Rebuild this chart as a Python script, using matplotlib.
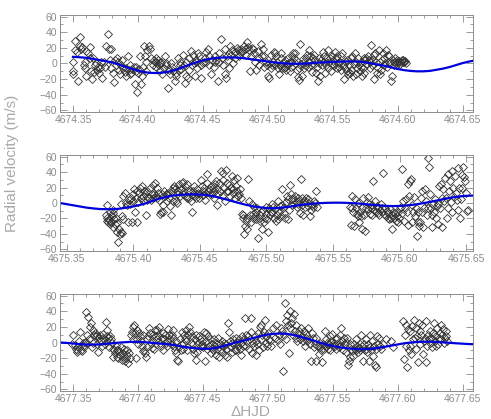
import numpy as np
import matplotlib.pyplot as plt
from matplotlib.ticker import MultipleLocator, FormatStrFormatter

plt.rcParams['font.family'] = ['Liberation Sans', 'DejaVu Sans']

# night start days (HJD - 2450000) and plotted windows
days = [4674.35, 4675.345, 4677.34]
xlims = [(4674.340, 4674.658), (4675.345, 4675.655), (4677.340, 4677.658)]

# (time offset from day start in 1e-3 d, RV in m/s)
rv1 = [(0.0,2),(0.1,-10),(0.3,-13),(1.3,29),(1.8,17),(3.1,15),(3.8,-23),(5.1,34),(5.2,23),(6.4,19),(7.2,21),(8.2,-2),(9.0,-6),(9.1,2),(9.7,-16),(10.3,16),(11.5,13),(12.8,7),(13.3,21),(14.1,-10),(14.9,-20),(15.4,7),(16.2,-11),(16.7,-2),(17.9,0),(18.5,-8),(19.2,-5),(20.0,-12),(20.5,-6),(21.8,2),(22.6,-19),(23.6,2),(24.4,-4),(25.6,23),(26.9,38),(27.7,19),(28.2,4),(29.0,19),(29.5,-6),(30.8,-12),(31.3,-24),(32.1,4),(33.3,-2),(33.8,7),(34.6,2),(35.4,-8),(35.9,-14),(37.2,-2),(37.9,4),(38.5,-6),(39.7,-11),(40.5,-16),(41.0,-6),(42.3,9),(43.1,-8),(43.6,-2),(44.1,-13),(44.9,-12),(45.6,-7),(46.7,-5),(47.4,-26),(48.2,-4),(48.7,-9),(49.2,-36),(50.0,-12),(50.8,-7),(51.8,9),(52.6,-26),(53.3,-16),(53.8,-4),(54.6,23),(55.1,9),(55.9,2),(56.4,-10),(57.2,17),(58.5,23),(59.5,19),(60.3,7),(61.5,-2),(62.1,4),(62.8,2),(63.6,-4),(64.1,7),(64.6,0),(65.4,4),(66.2,-2),(66.7,-8),(67.2,0),(67.9,2),(68.7,-14),(69.7,-6),(70.5,9),(71.3,0),(71.8,-2),(73.1,-31),(73.8,-8),(74.4,-14),(75.6,0),(76.4,-5),(76.9,-9),(78.2,-22),(79.0,-12),(79.5,-16),(80.8,7),(81.5,-8),(82.1,-2),(82.6,2),(83.3,-7),(84.6,11),(85.1,-2),(85.9,-25),(86.7,-16),(87.2,2),(88.5,-18),(89.2,-8),(89.7,7),(91.0,16),(91.8,-2),(92.3,11),(93.1,0),(93.6,-16),(94.4,5),(94.9,2),(95.4,-6),(96.2,13),(97.4,9),(98.2,-2),(98.7,-18),(100.0,0),(100.5,2),(101.3,7),(102.1,15),(102.6,2),(103.8,18),(104.6,10),(105.1,-2),(106.4,-14),(107.2,4),(108.2,-4),(109.0,9),(109.7,2),(110.3,4),(111.5,-22),(112.3,2),(112.8,14),(114.1,31),(114.9,7),(115.4,-2),(116.7,-13),(117.2,19),(117.9,-18),(118.5,9),(119.2,4),(120.0,13),(120.5,-6),(121.0,22),(121.8,11),(122.6,17),(123.1,0),(124.4,15),(125.1,7),(126.2,20),(126.9,17),(128.2,9),(128.7,15),(129.5,19),(130.3,15),(131.3,22),(132.1,19),(133.3,11),(134.1,27),(134.6,21),(135.4,17),(136.4,-10),(137.2,9),(137.9,20),(138.5,18),(139.7,14),(140.5,2),(141.0,-8),(142.3,16),(143.1,7),(143.6,-2),(144.9,25),(145.6,10),(146.2,19),(146.7,-4),(147.4,9),(148.7,2),(149.2,-2),(150.0,-16),(150.8,-18),
       (151.5,0),(152.3,11),(152.8,-6),(153.3,-2),(154.1,2),(154.8,15),(155.3,-2),(155.8,13),(156.6,9),(157.4,2),(157.9,-6),(158.4,-13),(159.1,-2),(159.9,7),(160.4,13),(160.9,-6),(161.7,0),(162.4,-6),(162.9,4),(163.5,-4),(164.2,-8),(165.0,-1),(165.5,7),(166.0,0),(166.8,-10),(167.5,-4),(168.0,2),(168.5,9),(169.3,13),(170.1,7),(170.6,13),(171.1,0),(171.8,4),(172.6,-8),(173.1,-17),(173.9,-6),(174.4,-21),(174.9,25),(175.6,-1),(176.2,-16),(176.9,6),(177.7,-6),(178.2,2),(178.7,-2),(179.5,7),(180.2,11),(180.7,-4),(181.5,17),(182.0,2),(182.8,9),(183.3,-2),(184.0,-11),(184.5,7),(185.3,11),(185.8,-1),(186.3,4),(187.1,-12),(187.8,-5),(188.3,-22),(189.1,0),(189.6,7),(190.4,-16),(190.9,4),(191.4,-2),(192.2,15),(192.9,2),(193.4,9),(194.2,-12),(194.7,-2),(195.5,7),(196.0,17),(196.5,-6),(197.2,2),(198.0,7),(198.5,-10),(199.3,9),(199.8,-1),(200.5,3),(201.1,-2),(201.6,15),(202.3,7),(203.1,-6),(203.6,9),(204.1,0),(204.9,-4),(205.6,2),(206.1,-8),(206.6,9),(207.4,13),(208.2,-2),(208.7,-20),(209.2,-6),(209.9,2),(210.7,-10),(211.2,4),(211.7,-14),(212.5,-2),(213.2,-12),(213.8,7),(214.3,-8),(215.0,9),(215.8,-16),(216.3,-1),(216.8,13),(217.6,2),(218.3,-14),(218.8,-6),(219.3,7),(220.1,-2),(220.9,-10),(221.4,2),(221.9,-4),(222.6,-16),(223.4,-6),(223.9,-12),(224.4,7),(225.2,4),(225.9,7),(226.5,-1),(227.0,9),(227.7,4),(228.5,-6),(229.0,2),(229.5,24),(230.3,-2),(231.0,4),(231.5,-20),(232.0,11),(232.8,13),(233.6,2),(234.1,-12),(234.6,-6),(235.3,17),(236.1,2),(236.6,-14),(237.1,-8),(237.9,4),(238.7,13),(239.2,-2),(239.7,7),(240.4,0),(241.2,17),(241.7,-4),(242.2,11),(243.0,2),(243.7,9),(244.2,0),(244.8,-22),(245.5,-16),(246.3,4),(246.8,-2),(247.3,2),(248.1,7),(248.8,0),(249.3,2),(249.8,4),(250.6,0),(251.4,3),(251.9,-1),(252.4,2),(253.1,4),(253.9,2),(254.4,4),(254.9,2),(255.7,3),(256.4,0)]

rv2 = [(35.0,-3),(34.5,-15),(35.0,-20),(35.5,-23),(36.25,-25),(37.0,-21),(37.5,-27),(38.0,-24),(38.75,-17),(39.5,-31),(40.0,-13),(40.5,-21),(41.25,-27),(42.0,-19),(42.5,-38),(43.0,-26),(43.75,-51),(44.5,-33),(45.0,-40),(45.5,-37),(46.25,-39),(47.0,-21),(37.5,-11),(39.5,-9),(45.5,-1),(46.25,-17),
       (47.5,9),(48.75,13),(49.5,0),(50.0,-3),(51.25,-25),(52.0,4),(52.5,-1),(53.0,7),(53.75,-24),(54.5,11),(55.0,3),(55.5,18),(56.25,-11),(57.0,7),(57.5,15),(58.0,-24),(58.75,1),(59.5,13),(60.0,20),(60.5,7),(61.25,22),(62.0,3),(62.5,9),(63.0,16),(63.75,11),(64.5,-16),(65.0,4),(65.5,15),(66.25,8),(67.0,7),(67.5,20),(68.0,4),(68.75,11),(69.5,23),(70.0,7),(70.5,11),(71.25,26),(72.0,9),(72.5,6),(73.0,20),(73.75,13),(74.5,4),(75.0,-14),(75.5,-12),(76.25,11),(77.0,-2),(77.5,-11),(78.0,15),(78.75,9),(79.5,11),(80.0,3),(80.5,11),(81.25,13),(82.0,7),(82.5,-4),(83.0,-15),(83.75,15),(84.5,20),(85.0,2),(85.5,22),(86.25,18),(87.0,3),(87.5,11),(88.0,0),(88.75,15),(89.5,24),(90.0,9),(90.5,18),(91.25,26),(92.0,11),(92.5,27),(93.0,16),(93.75,22),(94.5,9),(95.0,7),(95.5,24),(96.25,15),(97.0,7),(97.5,16),(98.0,3),(98.75,-12),(99.5,11),(100.0,16),(100.5,22),(101.25,9),(102.0,7),(102.5,11),(103.0,18),(103.75,13),(104.5,7),(105.0,11),(105.5,30),(106.25,22),(107.0,15),(107.5,10),(108.0,20),(108.75,4),(109.5,13),(110.0,37),(110.5,26),(111.25,15),(112.0,18),(112.5,11),(113.0,22),(113.75,11),(114.5,20),(115.0,15),(115.5,7),(116.25,24),(117.0,28),(117.5,-2),(118.0,18),(118.75,11),(119.5,26),(120.0,15),(120.5,41),(121.25,9),(122.0,30),(122.5,39),(123.0,20),(123.75,3),(124.5,43),(125.0,15),(125.5,26),(126.25,16),(127.0,23),(127.5,9),(128.0,20),(128.75,35),(129.5,13),(130.0,18),(130.5,30),(131.25,7),(132.0,22),(132.5,15),(133.0,32),(133.75,9),(134.5,11),(135.0,18),(135.5,7),
       (136.25,-14),(137.0,-16),(137.5,-19),(138.0,-40),(138.75,-30),(139.5,-23),(140.0,-34),(140.5,-20),(141.25,31),(142.0,3),(142.5,-16),(143.0,-24),(143.75,-1),(144.5,-19),(145.0,-14),(145.5,-5),(146.25,-17),(147.0,-11),(147.5,-21),(148.0,-7),(148.75,-45),(149.5,-19),(150.0,-15),(150.5,-23),(151.25,-11),(152.0,-34),(152.5,-9),(153.0,-25),(153.75,-19),(154.5,-5),(155.0,-14),(155.5,-21),(156.25,-38),
       (156.9,-7),(157.65,-15),(158.4,-11),(158.9,-1),(159.4,-12),(160.15,-5),(160.9,-19),(161.4,-8),(161.9,-23),(162.65,-15),(163.4,-21),(163.9,3),(164.4,-11),(165.15,-4),(165.9,-17),(166.4,-3),(166.9,18),(167.65,-7),(168.4,-13),(168.9,-19),(169.4,1),(170.15,9),(170.9,-21),(171.4,5),(171.9,-9),(172.65,23),(173.4,11),(173.9,-3),(174.4,5),(175.15,7),(175.9,-1),(176.4,9),(176.9,1),(177.65,-5),(178.4,7),(178.9,-1),(179.4,3),(180.15,-13),(180.9,31),(181.4,-3),(181.9,7),(182.65,-15),(183.4,3),(183.9,-5),(184.4,7),(185.15,1),(185.9,-4),(186.4,5),(187.65,-17),(188.4,-9),(188.9,-3),(190.15,-5),(190.9,3),(191.4,0),(191.9,15),(192.65,-5),
       (217.65,-5),(218.4,-29),(218.9,-6),(219.4,9),(220.15,-11),(220.9,-30),(221.4,5),(221.9,-6),(222.65,-14),(223.4,-17),(223.9,0),(224.4,-25),(225.15,-11),(225.9,-17),(226.4,-7),(226.9,-33),(227.65,7),(228.4,-15),(228.9,-36),(229.4,-6),(230.15,1),(230.9,-8),(231.4,8),(231.9,-1),(232.65,-14),(233.4,-7),(233.9,-16),(234.4,-3),(235.15,29),(235.9,-9),(236.4,3),(236.9,-11),(237.65,-4),(238.4,-13),(238.9,-7),(239.4,-16),(240.15,-9),(240.9,-1),(241.4,-11),(241.9,-6),(242.65,39),(243.4,-14),(243.9,-7),(244.4,-17),(245.15,-10),(245.9,-20),(246.4,-13),(246.9,-21),(247.65,-8),(248.4,-19),(248.9,-34),(249.4,-15),(250.15,-11),(250.9,-19),(251.4,-13),(251.9,-23),(252.65,-17),(253.4,-25),(253.9,-11),(254.4,-19),(255.15,-7),(255.9,-5),(256.4,-13),(256.9,44),(257.65,3),(258.4,-23),(258.9,-6),(259.4,5),(260.15,-11),(260.9,24),(261.4,-29),(261.9,9),(262.65,28),(263.4,31),(263.9,-3),(264.4,-25),(265.15,-11),(265.9,8),(266.4,-17),(266.9,-6),(267.65,-42),(268.4,-24),(268.9,-11),(269.4,-30),(270.15,-24),(270.9,7),(271.4,-11),(271.9,16),(272.65,-31),(273.4,-6),(273.9,18),(274.4,3),(275.15,-15),(275.9,-7),(276.4,58),(276.9,46),(277.65,11),(278.4,-6),(278.9,-15),(279.4,-31),(280.15,-1),(280.9,-11),(281.4,5),(281.9,-20),(282.65,-4),(283.4,-1),(283.9,-27),(284.4,22),(285.15,-7),(285.9,24),(286.4,7),(286.9,-31),(287.65,18),(288.4,2),(288.9,32),(289.4,7),(290.15,-20),(290.9,37),(291.4,-6),(291.9,16),(292.65,28),(293.4,1),(293.9,-11),(294.4,41),(295.15,20),(295.9,8),(296.4,35),(296.9,13),(297.65,4),(298.4,-9),(298.9,45),(299.4,20),(300.15,-20),(300.9,5),(301.4,36),(301.9,20),(302.65,46),(303.4,34),(303.9,28),(304.4,13),(305.15,-10),(305.9,-9)]

rv3 = [(9.0,-2),(10.3,9),(11.5,-3),(12.3,-8),(12.8,-10),(13.3,-12),(14.1,-6),(14.9,2),(15.4,14),(15.9,-10),(16.7,-11),(17.4,-4),(17.9,0),(18.5,-6),(19.2,1),(20.0,39),(20.5,-1),(21.0,10),(21.8,32),(22.6,4),(23.1,20),(23.6,25),(24.4,-6),(25.1,16),(25.6,0),(26.2,10),(26.9,12),(27.7,8),(28.2,-2),(28.7,10),(29.5,-12),(30.3,6),(30.8,9),(31.3,2),(32.1,-4),(32.8,6),(33.3,11),(33.8,4),(34.6,-2),(35.4,26),(35.9,8),(36.4,16),(37.2,6),(37.9,-6),(38.5,8),(39.0,4),(39.7,0),(40.5,-18),(41.0,-8),(41.5,-10),(42.3,-14),(43.1,-4),(43.6,-18),(44.1,-9),(44.9,-20),(45.6,-11),(46.2,-16),(46.7,-6),(47.4,-22),(48.2,-13),(48.7,-18),(49.2,-8),(50.0,-24),(50.8,-20),(51.3,-16),(51.8,-10),(52.6,-26),(53.3,-14),(53.8,-20),(54.4,10),(55.1,13),(55.9,20),(56.4,4),(56.9,22),(57.7,12),(58.5,-20),(59.0,16),(59.5,4),(60.3,-2),(61.0,12),(61.5,8),(62.1,2),(62.8,-4),(63.6,10),(64.1,-11),(64.6,-9),(65.4,-14),(66.2,-18),(66.7,-6),(67.2,4),(67.9,8),(68.7,18),(69.2,12),(69.7,0),(70.5,-7),(71.3,10),(71.8,2),(72.3,-8),(73.1,16),(73.8,8),(74.4,16),(74.9,4),(75.6,9),(76.4,20),(76.9,0),(77.4,-4),(78.2,6),(79.0,12),(79.5,-10),(80.0,4),(80.8,9),(81.5,0),(82.1,-4),(82.6,2),(83.3,17),(84.1,9),(84.6,4),(85.1,-2),(85.9,10),(86.7,16),(87.2,6),(87.7,-4),(88.5,-10),(89.2,2),(89.7,-14),(90.3,-22),(91.0,-24),(91.8,-6),(92.3,4),(92.8,-10),(93.6,14),(94.4,0),(94.9,-8),(95.4,10),(96.2,4),(96.9,16),(97.4,2),(97.9,-10),(98.7,9),(99.5,20),(100.0,13),(100.5,0),(101.3,8),(102.1,-2),(102.6,-8),(103.1,-14),(103.8,5),(104.6,-22),(105.1,10),(105.6,-12),(106.4,0),(107.2,8),(107.7,4),(108.2,-4),(109.0,2),(109.7,-2),(110.3,-6),(110.8,14),(111.5,-24),(112.3,12),(112.8,2),(113.3,-8),(114.1,8),(114.9,-4),(115.4,5),(115.9,-14),(116.7,-2),(117.4,-7),(117.9,-10),(118.5,4),(119.2,-4),(120.0,-16),(120.5,0),(121.0,-8),(121.8,6),(122.6,-18),(123.1,-2),(123.6,-8),(124.4,2),(125.1,-12),(125.6,-4),(126.2,0),(126.9,-16),(127.7,-8),(128.2,-2),(128.7,-18),(129.5,25),(130.3,13),(130.8,2),(131.3,-6),(132.1,0),(132.8,-12),(133.3,4),(133.8,-2),(134.6,-9),(135.4,6),(135.9,-10),(136.4,1),(137.2,-4),(137.9,5),(138.5,-8),(139.0,-16),(139.7,0),(140.5,8),(141.0,-4),(141.5,4),(142.3,31),(143.1,10),(143.6,-4),(144.1,2),(144.9,8),(145.6,-8),(146.2,4),(146.7,14),(147.4,31),(148.2,-14),(148.7,0),(149.2,-4),(150.0,8),(150.8,2),(151.3,-16),(151.8,-2),(152.6,12),(153.3,-10),(153.8,20),(154.4,4),(155.1,22),(155.9,10),(156.4,-6),(156.9,14),(157.7,29),(158.5,0),(159.0,8),(159.5,-4),(160.3,12),(161.0,4),
       (161.5,2),(162.8,-4),(164.1,18),(165.4,6),(166.7,22),(168.0,3),(168.7,10),(169.2,-2),(170.5,18),(171.3,15),(171.8,-36),(172.3,10),(173.1,50),(173.8,27),(174.4,4),(174.9,35),(175.6,23),(176.4,-14),(176.9,19),(177.4,40),(178.2,25),(179.0,31),(179.5,10),(180.0,37),(180.8,15),(181.5,6),(182.1,23),(182.6,2),(183.3,11),(184.1,15),(184.6,4),(185.9,19),(186.7,8),(187.2,2),(187.7,15),(188.5,-4),(189.2,6),(189.7,11),(190.3,2),(191.0,18),(191.8,4),(192.3,-2),(193.6,-24),(194.4,12),(194.9,6),(195.4,-6),(196.2,-2),(197.0,-23),(197.4,6),(198.7,-4),(199.5,-15),(200.0,-6),(200.5,0),(201.3,-10),(202.0,-25),(202.6,-2),(203.1,-8),(203.8,15),(204.6,4),(205.1,-5),(205.6,0),(206.4,-8),(207.2,-2),(207.7,8),(208.2,-10),(209.0,2),(209.7,11),(210.3,-5),(210.8,0),(211.5,-4),(212.3,4),(212.8,-8),(213.3,6),(214.1,-1),(214.9,-6),(215.4,10),(215.9,-4),(216.7,19),(217.4,2),(218.0,-10),(218.5,6),(219.2,-2),(220.0,1),(220.5,-12),(221.0,6),(221.8,-29),(222.6,-23),(223.1,-2),(223.6,-19),(224.4,-8),(225.1,-11),(225.6,-17),(226.1,-2),(226.9,-8),(227.7,4),(228.2,-10),(228.7,-5),(229.5,-12),(230.3,-7),(230.8,-2),(231.3,-10),(232.1,10),(232.8,-5),(233.3,-23),(233.8,-2),(234.6,-10),(235.4,4),(235.9,-8),(236.4,-12),(237.2,-2),(238.0,-23),(238.5,10),(239.0,-6),(239.8,-10),(240.5,2),(241.0,-17),(241.5,-4),(242.3,-29),(243.1,-31),(243.6,-8),(244.1,8),(244.9,-2),(245.6,6),(246.2,-4),(247.4,-8),(248.7,-2),(251.3,4),(255.1,2),(256.4,-6),
       (264.1,27),(264.6,-21),(265.4,10),(266.2,-4),(266.7,23),(267.2,-31),(268.0,17),(268.7,-10),(269.2,15),(269.7,-4),(270.5,-15),(271.3,21),(271.8,4),(272.3,29),(273.1,6),(273.8,-8),(274.4,19),(274.9,8),(275.6,-25),(276.4,25),(276.9,15),(277.4,-2),(278.2,10),(279.0,23),(279.5,-15),(280.0,2),(280.8,6),(281.5,27),(282.1,-25),(282.6,-4),(283.3,10),(284.1,4),(284.6,15),(285.1,0),(285.9,6),(286.7,-6),(287.2,12),(287.7,25),(288.5,2),(289.2,-4),(289.7,8),(290.3,19),(291.0,-2),(291.8,6),(292.3,12),(292.8,4),(293.6,23),(294.4,10),(294.9,17),(295.4,0),(296.2,6),(296.9,15),(297.4,8),(297.9,2)]

# model curves: (time offset from day start in 1e-3 d, RV in m/s)
fit1 = [(0,8.5),(5,8),(10,7.3),(15,6),(20,4.5),(25,3),(30,1.5),(35,-1),(40,-4),(45,-6.5),(50,-9),(55,-11),(60,-12),(65,-12.2),(70,-11.5),(75,-10),(80,-7.5),(85,-4.5),(90,-1.5),(95,1.5),(100,4),(105,5.8),(110,7),(115,7.6),(120,7.8),(125,7.6),(130,7),(135,6),(140,4.8),(145,3.7),(150,2.5),(155,1.4),(160,0.5),(165,-0.1),(170,-0.4),(175,-0.4),(180,0),(185,0.6),(190,1.2),(195,1.7),(200,2),(205,2.3),(210,2.6),(215,2.7),(220,2.4),(225,1.5),(230,0),(235,-1.5),(240,-3),(245,-5),(250,-7),(255,-8.5),(260,-9.5),(265,-10),(270,-10),(275,-9.4),(280,-8),(285,-6.5),(290,-4.5),(295,-2),(300,0.5),(305,2.5),(308,3.5)]
fit2 = [(0,0),(5,-1.5),(10,-3),(15,-4.5),(20,-6),(25,-7),(30,-7.8),(35,-8),(40,-8),(45,-7.3),(50,-6),(55,-4.5),(60,-2.5),(65,0),(70,3),(75,6),(80,8),(85,9.6),(90,10.5),(95,11),(100,11.2),(105,11),(110,10.3),(115,8.8),(120,6.8),(125,4.5),(130,2),(135,-0.3),(140,-2.5),(145,-4.3),(150,-5.6),(155,-6.5),(160,-6.8),(165,-6.3),(170,-5.3),(175,-4),(180,-2.8),(185,-1.6),(190,-0.8),(195,-0.2),(200,0.2),(205,0.4),(210,0.4),(215,0.2),(220,-0.3),(225,-0.8),(230,-1.6),(235,-2.5),(240,-3.2),(245,-3.8),(250,-4),(255,-3.8),(260,-3.2),(265,-2.3),(270,-1),(275,0.5),(280,2.2),(285,4),(290,5.8),(295,7.3),(300,8.5),(305,9.3),(310,9.6)]
fit3 = [(0,0),(5,-0.5),(10,-1.2),(15,-2),(20,-2.6),(25,-2.8),(30,-2.5),(35,-1.8),(40,-1),(45,-0.2),(50,0.4),(55,0.8),(60,0.8),(65,0.4),(70,-0.3),(75,-1),(80,-1.8),(85,-2.5),(90,-4),(95,-5.5),(100,-6.6),(105,-7.5),(110,-8),(115,-8),(120,-7),(125,-5),(130,-2.5),(135,0),(140,1.8),(145,4),(150,6.3),(155,8.5),(160,10.2),(165,11.2),(170,11.5),(175,11),(180,9.5),(185,7.5),(190,5),(195,2.5),(200,0),(205,-2.5),(210,-4.5),(215,-6),(220,-7.2),(225,-8),(230,-8.5),(235,-8.5),(240,-8),(245,-7),(250,-5.5),(255,-4),(260,-2.5),(265,-1),(270,0),(275,0.7),(280,1),(285,1),(290,0.7),(295,0.2),(300,-0.4),(305,-1),(310,-1.5),(315,-2),(318,-2.2)]
fit_days = [4674.35, 4675.345, 4677.34]

grey = '#8c8c8c'
fig = plt.figure(figsize=(4.91, 4.19), dpi=100)
boxes = [[0.1222, 0.7327, 0.8411, 0.2315],
         [0.1222, 0.4010, 0.8411, 0.2290],
         [0.1222, 0.0668, 0.8411, 0.2315]]

for box, day, fday, rv, fit, xl in zip(boxes, days, fit_days, [rv1, rv2, rv3],
                                      [fit1, fit2, fit3], xlims):
    ax = fig.add_axes(box)
    t = day + np.array([p[0] for p in rv]) / 1000.0
    v = np.array([p[1] for p in rv])
    ax.plot(t, v, linestyle='none', marker='D', markersize=3.6,
            markerfacecolor='none', markeredgecolor='#333333', markeredgewidth=0.6)
    ft = fday + np.array([p[0] for p in fit]) / 1000.0
    fv = np.array([p[1] for p in fit])
    ax.plot(ft, fv, color='#0000dd', linewidth=1.6, solid_joinstyle='round')
    ax.set_xlim(*xl)
    ax.set_ylim(-62, 62)
    ax.xaxis.set_major_locator(MultipleLocator(0.05))
    ax.xaxis.set_minor_locator(MultipleLocator(0.01))
    ax.xaxis.set_major_formatter(FormatStrFormatter('%.2f'))
    ax.yaxis.set_major_locator(MultipleLocator(20))
    ax.yaxis.set_minor_locator(MultipleLocator(10))
    ax.tick_params(which='both', direction='in', top=True, right=True,
                   color=grey, labelcolor=grey, labelsize=7.5, pad=2)
    ax.tick_params(which='major', length=5, width=0.6)
    ax.tick_params(which='minor', length=2.5, width=0.6)
    for s in ax.spines.values():
        s.set_color(grey)
        s.set_linewidth(0.7)

fig.text(0.025, 0.61, 'Radial velocity (m/s)', rotation=90, ha='center',
         va='center', fontsize=11, color='#a8a8a8')
fig.text(0.51, 0.016, '\u0394HJD', ha='center', va='center',
         fontsize=11, color='#a8a8a8')

fig.savefig('out.png', dpi=100)
